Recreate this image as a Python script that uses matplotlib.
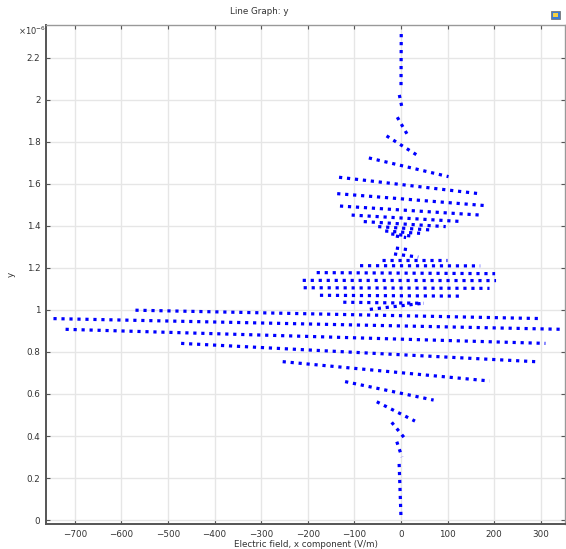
import matplotlib.pyplot as plt
from matplotlib.patches import Rectangle

# cada elemento es un tramo recto: (x izq, y izq) -> (x der, y der)
# y en unidades de 1e-6
x_izq = [0.5, -3.6, -8, -31, -69, -133, -137, -131, -106, -80, -49, -34, -21, -11,
         -11, -15,
         -41, -88, -181, -211, -209, -174, -124, -67,
         -570, -746, -720, -472, -254, -120, -52, -20, -9, -4]
y_izq = [2.314, 2.024, 1.918, 1.829, 1.724, 1.632, 1.554, 1.495, 1.452, 1.421, 1.397, 1.376, 1.362, 1.352,
         1.295, 1.267,
         1.238, 1.211, 1.178, 1.141, 1.106, 1.070, 1.037, 1.003,
         0.999, 0.959, 0.908, 0.841, 0.754, 0.659, 0.563, 0.465, 0.373, 0.267]
x_der = [0, 2.8, 15, 34, 102, 167, 181, 170, 132, 96, 64, 41, 24, 11,
         19, 37,
         98, 170, 202, 204, 190, 133, 48, 47,
         303, 346, 310, 288, 190, 70, 30, 11, 2, 0]
y_der = [2.057, 1.956, 1.830, 1.738, 1.635, 1.554, 1.497, 1.452, 1.421, 1.397, 1.381, 1.365, 1.352, 1.345,
         1.286, 1.252,
         1.238, 1.210, 1.173, 1.140, 1.103, 1.066, 1.032, 1.032,
         0.959, 0.908, 0.841, 0.754, 0.662, 0.571, 0.471, 0.381, 0.300, 0.010]

xticks = [-700, -600, -500, -400, -300, -200, -100, 0, 100, 200, 300]
yticks = [0, 0.2, 0.4, 0.6, 0.8, 1, 1.2, 1.4, 1.6, 1.8, 2, 2.2]

fig = plt.figure(figsize=(5.66, 5.49), dpi=100)
ax = fig.add_axes([46/566, 25/549, 519/566, 499/549])

for x1, y1, x2, y2 in zip(x_izq, y_izq, x_der, y_der):
    ax.plot([x1, x2], [y1, y2], color='#0000ff', linewidth=2.3,
            linestyle=(0, (1, 1.5)), dash_capstyle='butt')

ax.set_xlim(-762, 352)
ax.set_ylim(-0.019, 2.357)
ax.set_xticks(xticks)
ax.set_yticks(yticks)
ax.set_yticklabels(['%g' % v for v in yticks])
ax.grid(True, color='#e6e6e6', linewidth=1)
ax.set_axisbelow(True)
ax.tick_params(direction='in', length=3, width=0.8, labelsize=6.3,
               labelcolor='#333333', color='#555555', top=True, right=True, pad=4)

for s in ['left', 'bottom']:
    ax.spines[s].set_color('#555555')
    ax.spines[s].set_linewidth(1.4)
for s in ['top', 'right']:
    ax.spines[s].set_color('#999999')
    ax.spines[s].set_linewidth(1.0)

ax.set_xlabel('Electric field, x component (V/m)', fontsize=6.3, color='#333333', labelpad=1)
ax.set_ylabel('y', fontsize=6.3, color='#333333')
ax.yaxis.set_label_coords(-30/519, 0.5)
fig.text(259/566, 1 - 12/549, 'Line Graph: y', ha='center', va='center', fontsize=6.3, color='#333333')
fig.text(32/566, 1 - 31/549, '×10$^{-6}$', ha='center', va='center', fontsize=6.0, color='#333333')

# icono de la esquina
fig.patches.append(Rectangle((551/566, 1 - 19/549), 9/566, 8/549, transform=fig.transFigure,
                             facecolor='#3a7bd5', edgecolor='#777777', linewidth=0.6))
fig.patches.append(Rectangle((553/566, 1 - 17/549), 5/566, 4/549, transform=fig.transFigure,
                             facecolor='#f5d142', edgecolor='none'))

fig.savefig('out.png', dpi=100)
